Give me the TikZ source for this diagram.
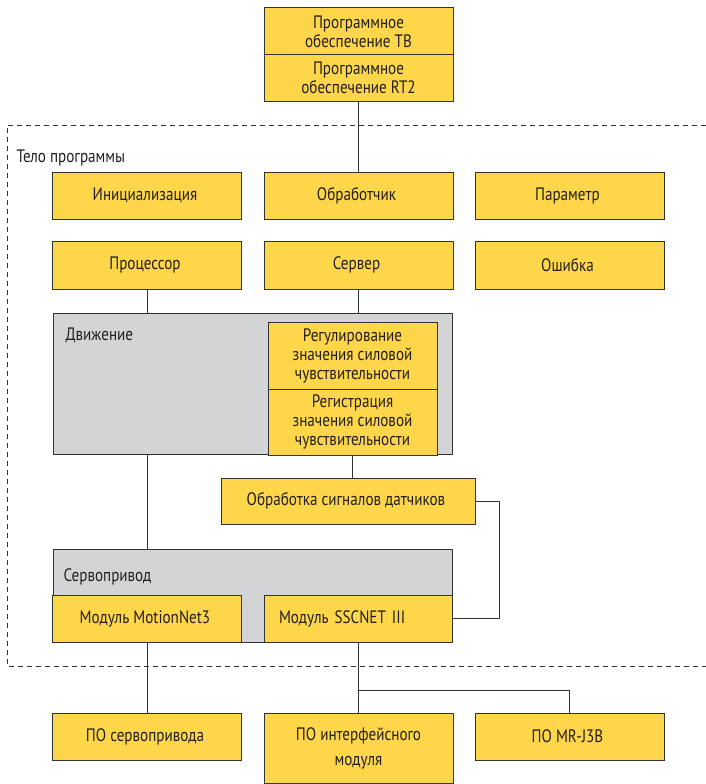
\documentclass[tikz,border=0pt]{standalone}
\usepackage{fontspec}
\setmainfont[FakeStretch=0.84]{PT Sans}
\usepackage{tikz}
\usetikzlibrary{positioning}
\usetikzlibrary{calc}
\definecolor{boxyellow}{RGB}{253,214,74}
\definecolor{boxgray}{RGB}{211,212,214}
\definecolor{linegray}{RGB}{50,50,50}
\definecolor{textdark}{RGB}{35,31,32}

\begin{document}
\begin{tikzpicture}[x=1pt, y=-1pt,
    every node/.style={text=textdark, font=\fontsize{18}{19}\selectfont},
    box/.style={draw=linegray, line width=1pt, fill=boxyellow, inner sep=0pt,
        align=center, minimum width=189pt, minimum height=47pt},
    group/.style={draw=linegray, line width=1pt, fill=boxgray},
    wire/.style={draw=linegray, line width=1pt},
    frame/.style={draw=linegray, line width=1pt, dash pattern=on 5pt off 4pt}]
    \useasboundingbox (0,0) rectangle (706,784);
    % outer software frame
    \draw[frame] (706,125) -- (7,125) -- (7,666) -- (706,666);
    \path node (body) at (13,158) [anchor=west] { Тело программы };
    % top
    \path
        node (tb) at (358.5,31.5) [box] { Программное\\обеспечение TB }
        node (rt) at (358.5,78) [box, minimum height=46pt] { Программное\\обеспечение RT2 };
    % first rows
    \path
        node (init)  at (147,195.5)   [box] { Инициализация }
        node (hdl)   at (358.5,195.5) [box] { Обработчик }
        node (param) at (569.5,195.5) [box] { Параметр }
        node (proc)  at (147,265)     [box, minimum height=48pt] { Процессор }
        node (serv)  at (358.5,265)   [box, minimum height=48pt] { Сервер }
        node (err)   at (569.5,265)   [box, minimum height=48pt] { Ошибка };
    % motion group
    \path node (motion) at (252.5,383.5) [group, minimum width=399pt, minimum height=141pt] {};
    \path node (motlbl) at (62,335) [anchor=west] { Движение };
    \path
        node (reg) at (352.5,355.5) [box, minimum width=169pt, minimum height=67pt]
            { Регулирование\\значения силовой\\чувствительности }
        node (rec) at (352.5,422) [box, minimum width=169pt, minimum height=66pt]
            { Регистрация\\значения силовой\\чувствительности };
    \path node (sens) at (348,501) [box, minimum width=254pt, minimum height=46pt]
        { Обработка сигналов датчиков };
    % servo group
    \path node (servo) at (252.5,595.5) [group, minimum width=399pt, minimum height=93pt] {};
    \path node (srvlbl) at (60,577) [anchor=west] { Сервопривод };
    \path
        node (mnet) at (147,618.5) [box] { Модуль MotionNet3 }
        node (ssc)  at (358,618.5) [box, minimum width=188pt, text width=158pt, align=left]
            { Модуль SSCNET III };
    % bottom
    \path
        node (posrv) at (147,736.5)   [box] { ПО сервопривода }
        node (poif)  at (358.5,748)   [box, minimum height=70pt] { ПО интерфейсного\\[6pt]модуля }
        node (pomr)  at (569.5,736.5) [box] { ПО MR-J3B };
    \coordinate (split) at (358.5,690);
    \coordinate (loop) at (499,501);
    % connectors
    \draw[wire] (rt.south) -- (hdl.north);
    \draw[wire] (proc.south) -- (proc.south |- motion.north);
    \draw[wire] (serv.south) -- (serv.south |- motion.north);
    \draw[wire] (proc.south |- motion.south) -- (proc.south |- servo.north);
    \draw[wire] (rec.south) -- (rec.south |- sens.north);
    \draw[wire] (sens.east) -- (loop) |- (ssc.east);
    \draw[wire] (mnet.south) -- (posrv.north);
    \draw[wire] (ssc.south -| poif.north) -- (poif.north);
    \draw[wire] (split) -| (pomr.north);
\end{tikzpicture}
\end{document}
